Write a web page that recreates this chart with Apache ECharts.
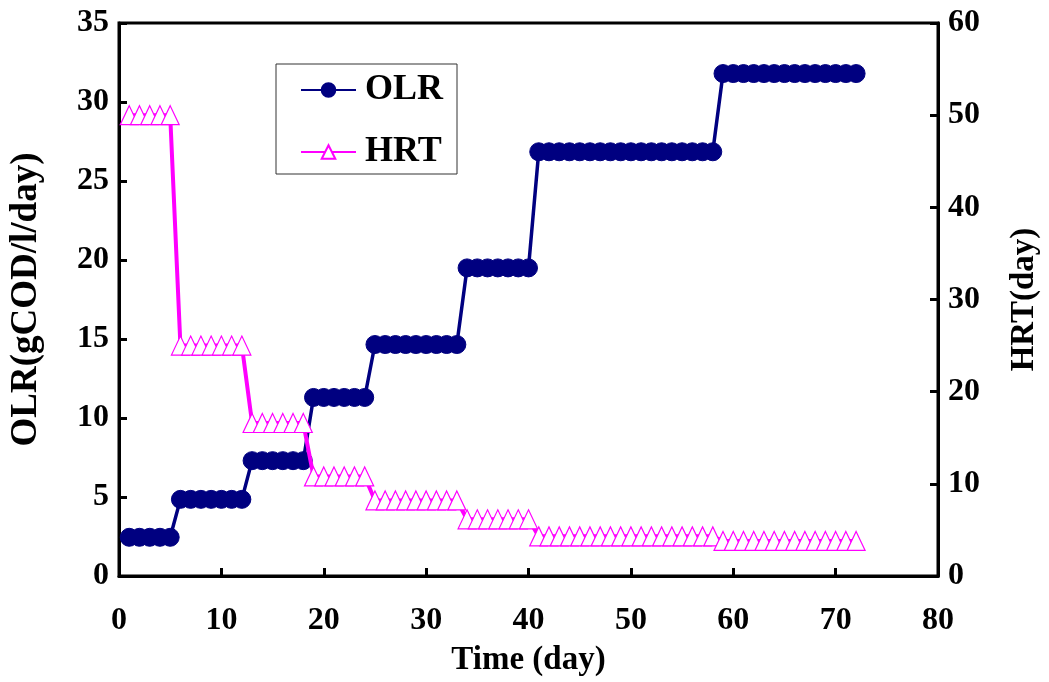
<!DOCTYPE html>
<html>
<head>
<meta charset="utf-8">
<script src="https://cdn.jsdelivr.net/npm/echarts@6/dist/echarts.min.js"></script>
<style>
  html, body { margin: 0; padding: 0; background: #fff; }
  #chart { width: 1049px; height: 682px; }
</style>
</head>
<body>
<div id="chart"></div>
<script>
// Operation days
const days = [
  1, 2, 3, 4, 5, 6, 7, 8, 9, 10, 11, 12, 13, 14, 15, 16, 17, 18,
  19, 20, 21, 22, 23, 24, 25, 26, 27, 28, 29, 30, 31, 32, 33, 34, 35, 36,
  37, 38, 39, 40, 41, 42, 43, 44, 45, 46, 47, 48, 49, 50, 51, 52, 53, 54,
  55, 56, 57, 58, 59, 60, 61, 62, 63, 64, 65, 66, 67, 68, 69, 70, 71, 72
];

// Organic loading rate, gCOD/l/day
const olr = [
  2.45, 2.45, 2.45, 2.45, 2.45,
  4.85, 4.85, 4.85, 4.85, 4.85, 4.85, 4.85,
  7.3, 7.3, 7.3, 7.3, 7.3, 7.3,
  11.3, 11.3, 11.3, 11.3, 11.3, 11.3,
  14.65, 14.65, 14.65, 14.65, 14.65, 14.65, 14.65, 14.65, 14.65,
  19.5, 19.5, 19.5, 19.5, 19.5, 19.5, 19.5,
  26.85, 26.85, 26.85, 26.85, 26.85, 26.85, 26.85, 26.85, 26.85,
  26.85, 26.85, 26.85, 26.85, 26.85, 26.85, 26.85, 26.85, 26.85,
  31.8, 31.8, 31.8, 31.8, 31.8, 31.8, 31.8, 31.8, 31.8, 31.8, 31.8, 31.8, 31.8, 31.8
];

// Hydraulic retention time, day
const hrt = [
  50, 50, 50, 50, 50,
  25, 25, 25, 25, 25, 25, 25,
  16.6, 16.6, 16.6, 16.6, 16.6, 16.6,
  10.8, 10.8, 10.8, 10.8, 10.8, 10.8,
  8.2, 8.2, 8.2, 8.2, 8.2, 8.2, 8.2, 8.2, 8.2,
  6.15, 6.15, 6.15, 6.15, 6.15, 6.15, 6.15,
  4.3, 4.3, 4.3, 4.3, 4.3, 4.3, 4.3, 4.3, 4.3,
  4.3, 4.3, 4.3, 4.3, 4.3, 4.3, 4.3, 4.3, 4.3,
  3.8, 3.8, 3.8, 3.8, 3.8, 3.8, 3.8, 3.8, 3.8, 3.8, 3.8, 3.8, 3.8, 3.8
];

const seriesNames = ['OLR', 'HRT'];
const xName = 'Time (day)';
const yLeftName = 'OLR(gCOD/l/day)';
const yRightName = 'HRT(day)';

const FONT = "'Liberation Serif', 'Times New Roman', serif";
const labelStyle = { fontFamily: FONT, fontWeight: 'bold', fontSize: 32, color: '#000' };
const nameStyle = { fontFamily: FONT, fontWeight: 'bold', fontSize: 33, color: '#000' };
const lineStyle = { color: '#000', width: 3 };

const pairs = (ys) => days.map((d, i) => [d, ys[i]]);

const chart = echarts.init(document.getElementById('chart'), null, { renderer: 'canvas' });

chart.setOption({
  animation: false,
  backgroundColor: '#fff',
  grid: {
    left: 119, right: 101, top: 23, bottom: 104,
    show: true, borderColor: '#000', borderWidth: 3, backgroundColor: 'transparent'
  },
  legend: {
    data: seriesNames,
    orient: 'vertical',
    left: 276, top: 64,
    padding: [8, 14, 4, 24],
    itemGap: 26,
    itemWidth: 55,
    itemHeight: 17,
    borderColor: '#333',
    borderWidth: 1,
    backgroundColor: '#fff',
    textStyle: Object.assign({}, nameStyle, { fontSize: 36, lineHeight: 32, padding: [0, 0, 0, 4] })
  },
  xAxis: {
    type: 'value',
    min: 0, max: 80, interval: 10,
    name: xName,
    nameLocation: 'middle',
    nameGap: 68,
    nameTextStyle: nameStyle,
    axisLine: { show: true, lineStyle: lineStyle },
    axisTick: { show: true, inside: true, length: 8, lineStyle: lineStyle },
    axisLabel: Object.assign({ margin: 29 }, labelStyle),
    splitLine: { show: false }
  },
  yAxis: [
    {
      type: 'value',
      position: 'left',
      min: 0, max: 35, interval: 5,
      name: yLeftName,
      nameLocation: 'middle',
      nameRotate: 90,
      nameGap: 74,
      nameTextStyle: Object.assign({}, nameStyle, { fontSize: 37 }),
      axisLine: { show: true, lineStyle: lineStyle },
      axisTick: { show: true, inside: true, length: 8, lineStyle: lineStyle },
      axisLabel: Object.assign({ margin: 10 }, labelStyle),
      splitLine: { show: false }
    },
    {
      type: 'value',
      position: 'right',
      min: 0, max: 60, interval: 10,
      name: yRightName,
      nameLocation: 'middle',
      nameRotate: 90,
      nameGap: 70,
      nameTextStyle: nameStyle,
      axisLine: { show: true, lineStyle: lineStyle },
      axisTick: { show: true, inside: true, length: 8, lineStyle: lineStyle },
      axisLabel: Object.assign({ margin: 10 }, labelStyle),
      splitLine: { show: false }
    }
  ],
  series: [
    {
      name: seriesNames[0],
      type: 'line',
      yAxisIndex: 0,
      data: pairs(olr),
      symbol: 'circle',
      symbolSize: 18,
      showAllSymbol: true,
      lineStyle: { color: '#000080', width: 3.5 },
      itemStyle: { color: '#000080', borderColor: '#000080', borderWidth: 1 },
      z: 2
    },
    {
      name: seriesNames[1],
      type: 'line',
      yAxisIndex: 1,
      data: pairs(hrt),
      symbol: 'triangle',
      symbolSize: [18, 19],
      showAllSymbol: true,
      lineStyle: { color: '#ff00ff', width: 4 },
      itemStyle: { color: '#ffffff', borderColor: '#ff00ff', borderWidth: 1.2 },
      z: 3
    }
  ]
});
</script>
</body>
</html>
